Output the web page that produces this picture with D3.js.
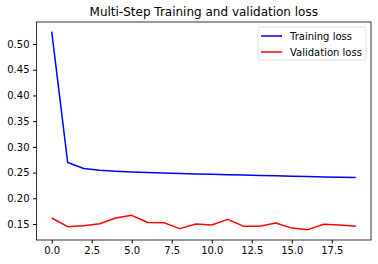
<!DOCTYPE html>
<html>
<head>
<meta charset="utf-8">
<script src="https://cdn.jsdelivr.net/npm/d3@7"></script>
<style>
  body { margin: 0; background: #fff; }
  text { font-family: "DejaVu Sans", sans-serif; }
</style>
</head>
<body>
<script>
// chart data
var epochs = d3.range(20);
var trainLoss = [0.524, 0.2695, 0.258, 0.2545, 0.2525, 0.251, 0.250, 0.249, 0.248, 0.2473,
                 0.2466, 0.246, 0.2453, 0.2445, 0.2438, 0.243, 0.2423, 0.2415, 0.241, 0.2405];
var valLoss = [0.1617, 0.1448, 0.1467, 0.1506, 0.1617, 0.1669, 0.153, 0.1526, 0.141, 0.150,
               0.148, 0.159, 0.1455, 0.1455, 0.152, 0.142, 0.139, 0.1494, 0.148, 0.1455];
var xTicks = [0, 2.5, 5, 7.5, 10, 12.5, 15, 17.5];
var yTicks = [0.15, 0.20, 0.25, 0.30, 0.35, 0.40, 0.45, 0.50];
var seriesNames = ["Training loss", "Validation loss"];
var seriesColors = ["#0000ff", "#ff0000"];

var width = 378,
    height = 264;
var margin = {top: 22, right: 7, bottom: 24, left: 36.5};

var svg = d3.select("body").append("svg")
    .attr("width", width)
    .attr("height", height);

var x = d3.scaleLinear()
    .domain([-0.95, 19.95])
    .range([margin.left, width - margin.right]);

var y = d3.scaleLinear()
    .domain([0.1189, 0.5428])
    .range([height - margin.bottom, margin.top]);

// title
svg.append("text")
    .attr("x", (margin.left + width - margin.right) / 2)
    .attr("y", 16)
    .attr("text-anchor", "middle")
    .style("font-size", "12px")
    .text("Multi-Step Training and validation loss");

// axes
svg.append("g")
    .attr("transform", "translate(0," + (height - margin.bottom) + ")")
    .call(d3.axisBottom(x).tickValues(xTicks).tickFormat(d3.format(".1f")).tickSize(3.5).tickPadding(3.5))
    .call(function(g) { g.select(".domain").remove(); })
    .selectAll("text").style("font-size", "10px").style("fill", "#000");

svg.append("g")
    .attr("transform", "translate(" + margin.left + ",0)")
    .call(d3.axisLeft(y).tickValues(yTicks).tickFormat(d3.format(".2f")).tickSize(3.5).tickPadding(3.5))
    .call(function(g) { g.select(".domain").remove(); })
    .selectAll("text").style("font-size", "10px").style("fill", "#000");

// lines
var line = d3.line()
    .x(function(d, i) { return x(epochs[i]); })
    .y(function(d) { return y(d); });

[trainLoss, valLoss].forEach(function(s, i) {
    svg.append("path")
        .datum(s)
        .attr("d", line)
        .style("fill", "none")
        .style("stroke", seriesColors[i])
        .style("stroke-width", 1.5)
        .style("stroke-linejoin", "round");
});

// frame
svg.append("rect")
    .attr("x", margin.left)
    .attr("y", margin.top)
    .attr("width", width - margin.right - margin.left)
    .attr("height", height - margin.bottom - margin.top)
    .style("fill", "none")
    .style("stroke", "#000")
    .style("stroke-width", 0.8);

// legend
var lg = svg.append("g").attr("transform", "translate(258,27)");
lg.append("rect")
    .attr("width", 108)
    .attr("height", 33)
    .attr("rx", 2)
    .style("fill", "#fff")
    .style("stroke", "#d6d6d6")
    .style("stroke-width", 0.8);
seriesNames.forEach(function(n, i) {
    var ly = 9 + i * 16;
    lg.append("line")
        .attr("x1", 3).attr("x2", 24)
        .attr("y1", ly).attr("y2", ly)
        .style("stroke", seriesColors[i])
        .style("stroke-width", 1.5);
    lg.append("text")
        .attr("x", 32)
        .attr("y", ly + 3.5)
        .style("font-size", "10px")
        .text(n);
});
</script>
</body>
</html>
